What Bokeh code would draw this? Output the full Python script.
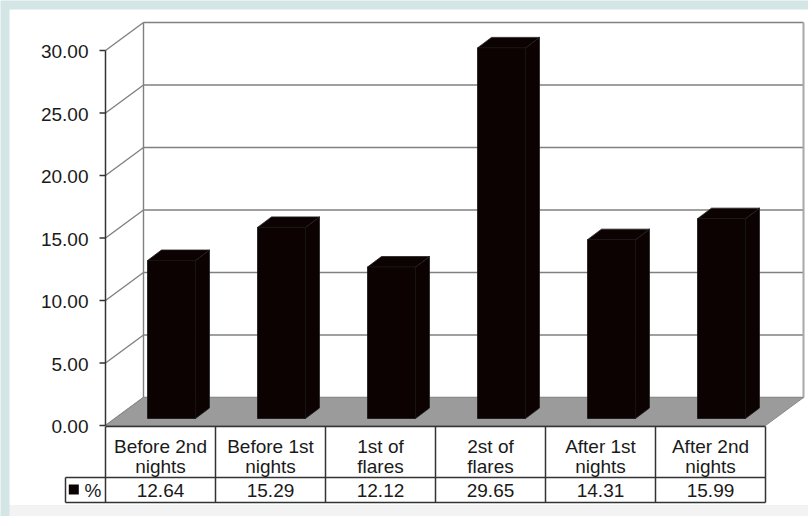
from bokeh.plotting import figure
from bokeh.models import Range1d
from bokeh.core.properties import value
from bokeh.embed import file_html
from bokeh.resources import INLINE

# ---- data -------------------------------------------------------------
categories = [
    "Before 2nd\nnights",
    "Before 1st\nnights",
    "1st of\nflares",
    "2st of\nflares",
    "After 1st\nnights",
    "After 2nd\nnights",
]
percent = [12.64, 15.29, 12.12, 29.65, 14.31, 15.99]
y_ticks = [0, 5, 10, 15, 20, 25, 30]
series_name = "%"

# ---- geometry (pixels) ------------------------------------------------
W, H = 808, 516
X0, COL = 105, 110        # front value axis, width of one category column
Y0, UNIT = 425, 12.5      # pixel row of value 0, pixels per value unit
WALL_DX, WALL_DY = 38, 28     # depth of the 3-D box
BAR_W = 48
FRONT_DX, FRONT_DY = 11, 7    # offset of the bar front face into the box
DEPTH_DX, DEPTH_DY = 14, 10.5  # depth of each bar

N = len(percent)
YMAX = y_ticks[-1]


def ddx(px):
    return px / COL


def ddy(px):
    return px / UNIT


def xd(px):
    return (px - X0) / COL


FONT = value("Liberation Sans")
FSIZE = "19px"
TXT = "#1a1a1a"
GRID = "#808080"
EDGE = "#333333"

p = figure(
    width=W, height=H,
    x_range=Range1d(-X0 / COL, (W - X0) / COL),
    y_range=Range1d((Y0 - H) / UNIT, Y0 / UNIT),
    x_axis_location=None, y_axis_location=None,
    output_backend="svg", toolbar_location=None,
    min_border=0, outline_line_color=None,
    background_fill_color="#d3e5e5", border_fill_color="#d3e5e5",
)
p.grid.visible = False
p.extra_x_ranges = {"px": Range1d(0, W)}
p.extra_y_ranges = {"px": Range1d(H, 0)}

# page panels
p.quad(left=9, right=W, top=9, bottom=505, x_range_name="px", y_range_name="px",
       fill_color="white", line_color=None)
p.quad(left=9, right=W, top=505, bottom=H, x_range_name="px", y_range_name="px",
       fill_color="#f3f3f3", line_color=None)

wdx, wdy = ddx(WALL_DX), ddy(WALL_DY)

# back wall gridlines
p.segment(x0=[wdx] * len(y_ticks), y0=[t + wdy for t in y_ticks],
          x1=[N + wdx] * len(y_ticks), y1=[t + wdy for t in y_ticks],
          line_color=GRID, line_width=1.4)
# side wall diagonals
p.segment(x0=[0] * len(y_ticks), y0=y_ticks,
          x1=[wdx] * len(y_ticks), y1=[t + wdy for t in y_ticks],
          line_color=GRID, line_width=1.4)
# back wall verticals
p.segment(x0=[wdx], y0=[wdy], x1=[wdx], y1=[YMAX + wdy],
          line_color=GRID, line_width=1.4)
p.segment(x0=[N + wdx], y0=[wdy], x1=[N + wdx], y1=[YMAX + wdy],
          line_color="#a8a8a8", line_width=2)

# floor
p.patch(x=[0, N, N + wdx, wdx], y=[0, 0, wdy, wdy],
        fill_color="#9b9b9b", line_color="#8a8a8a", line_width=1)

# bars
fx, fy = ddx(FRONT_DX), ddy(FRONT_DY)
bx, by = fx + ddx(DEPTH_DX), fy + ddy(DEPTH_DY)
hw = ddx(BAR_W) / 2
lefts = [i + 0.5 - hw + fx for i in range(N)]
rights = [i + 0.5 + hw + fx for i in range(N)]
tops_x, tops_y, sides_x, sides_y = [], [], [], []
for l, r, v in zip(lefts, rights, percent):
    tops_x.append([l, r, r - fx + bx, l - fx + bx])
    tops_y.append([v + fy, v + fy, v + by, v + by])
    sides_x.append([r, r - fx + bx, r - fx + bx, r])
    sides_y.append([fy, by, v + by, v + fy])
BAR = "#0c0202"
p.patches(xs=sides_x, ys=sides_y, fill_color=BAR, line_color="#222222", line_width=0.8)
p.patches(xs=tops_x, ys=tops_y, fill_color=BAR, line_color="#222222", line_width=0.8)
p.quad(left=lefts, right=rights, bottom=[fy] * N, top=[v + fy for v in percent],
       fill_color=BAR, line_color="#141414", line_width=0.8)

# value axis
p.segment(x0=[0], y0=[0], x1=[0], y1=[YMAX], line_color=EDGE, line_width=1.5)
p.segment(x0=[ddx(-6)] * len(y_ticks), y0=y_ticks, x1=[0] * len(y_ticks), y1=y_ticks,
          line_color=EDGE, line_width=1.5)
p.text(x=[ddx(-17)] * len(y_ticks), y=y_ticks, text=[f"{t:.2f}" for t in y_ticks],
       text_align="right", text_baseline="middle", text_font=FONT,
       text_font_size=FSIZE, text_color=TXT, y_offset=1)

# data table
T_TOP, T_MID, T_BOT = 426, 477, 502
leg_left = xd(65)
p.segment(x0=[0, leg_left, leg_left], y0=[T_TOP, T_MID, T_BOT],
          x1=[N, N, N], y1=[T_TOP, T_MID, T_BOT],
          y_range_name="px", line_color=EDGE, line_width=1.5)
p.segment(x0=list(range(N + 1)) + [leg_left], y0=[T_TOP] * (N + 1) + [T_MID],
          x1=list(range(N + 1)) + [leg_left], y1=[T_BOT] * (N + 2),
          y_range_name="px", line_color=EDGE, line_width=1.5)

line1 = [c.split("\n")[0] for c in categories]
line2 = [c.split("\n")[1] for c in categories]
centers = [i + 0.5 for i in range(N)]
for lines, mid in ((line1, 445.5), (line2, 465.5)):
    p.text(x=centers, y=[mid] * N, text=lines, y_range_name="px",
           text_align="center", text_baseline="middle", text_font=FONT,
           text_font_size=FSIZE, text_color=TXT)
p.text(x=centers, y=[489.5] * N, text=[f"{v:.2f}" for v in percent], y_range_name="px",
       text_align="center", text_baseline="middle", text_font=FONT,
       text_font_size=FSIZE, text_color=TXT)

# legend key
p.scatter(x=[xd(73.3)], y=[489], y_range_name="px", marker="square", size=10,
          fill_color=BAR, line_color=None)
p.text(x=[xd(84)], y=[489.5], text=[series_name], y_range_name="px",
       text_align="left", text_baseline="middle", text_font=FONT,
       text_font_size=FSIZE, text_color=TXT)

open("out.html", "w").write(file_html(p, INLINE))
